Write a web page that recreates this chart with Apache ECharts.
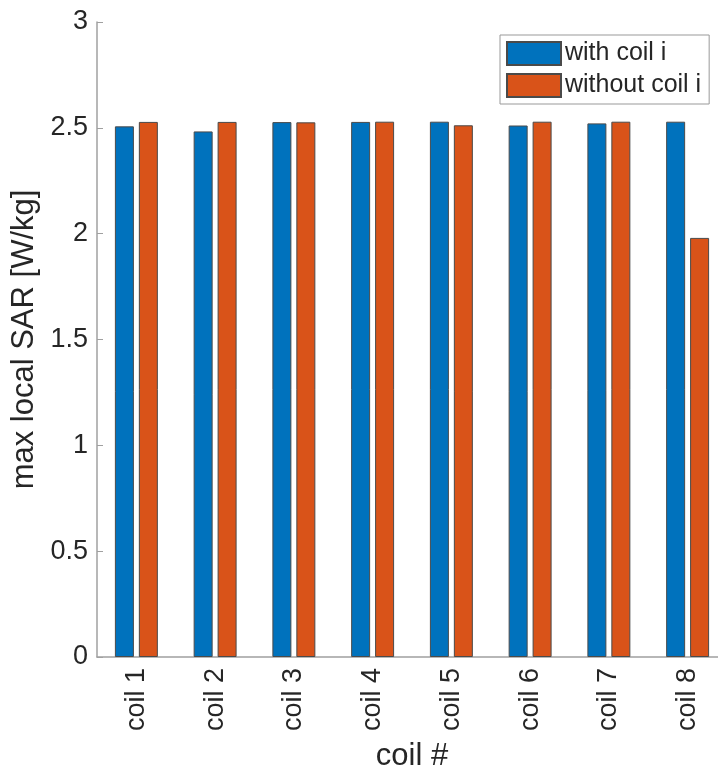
<!DOCTYPE html>
<html>
<head>
<meta charset="utf-8">
<script src="https://cdn.jsdelivr.net/npm/echarts@6/dist/echarts.min.js"></script>
<style>html,body{margin:0;padding:0;background:#fff;}#c{width:718px;height:769px;}</style>
</head>
<body>
<div id="c"></div>
<script>
var categories = ['coil 1','coil 2','coil 3','coil 4','coil 5','coil 6','coil 7','coil 8'];
var withCoil = [2.507, 2.483, 2.527, 2.528, 2.529, 2.511, 2.521, 2.529];
var withoutCoil = [2.528, 2.528, 2.526, 2.529, 2.512, 2.529, 2.529, 1.98];
var yTicks = [0, 0.5, 1, 1.5, 2, 2.5, 3];

var FONT = '"Liberation Sans", Arial, sans-serif';
var TXT = '#262626';
var chart = echarts.init(document.getElementById('c'), null, {renderer:'canvas'});
chart.setOption({
  animation: false,
  textStyle: {fontFamily: FONT},
  grid: {left: 97, top: 22, width: 630, height: 635, containLabel: false, outerBoundsMode: 'none'},
  legend: {
    left: 500, top: 35,
    orient: 'vertical',
    icon: 'rect',
    itemWidth: 54, itemHeight: 23, itemGap: 7,
    padding: [6, 8, 6, 6],
    borderColor: '#999', borderWidth: 1,
    backgroundColor: '#fff',
    textStyle: {fontSize: 25, color: TXT, fontFamily: FONT, padding: [0,0,0,-1]},
    data: ['with coil i', 'without coil i']
  },
  xAxis: {
    type: 'category',
    data: categories,
    name: 'coil #',
    nameLocation: 'middle',
    nameGap: 84,
    nameTextStyle: {fontSize: 31, color: TXT, fontFamily: FONT},
    axisLine: {lineStyle: {color: '#a0a0a0', width: 1.5}},
    axisTick: {inside: true, alignWithLabel: true, length: 6, lineStyle: {color: '#a0a0a0'}},
    axisLabel: {rotate: 90, fontSize: 27, color: TXT, margin: 11, fontFamily: FONT},
    splitLine: {show: false}
  },
  yAxis: {
    type: 'value',
    min: 0, max: 3, interval: 0.5,
    name: 'max local SAR [W/kg]',
    nameLocation: 'middle',
    nameGap: 50,
    nameTextStyle: {fontSize: 31, color: TXT, fontFamily: FONT},
    axisLine: {show: true, lineStyle: {color: '#a0a0a0', width: 1.5}},
    axisTick: {show: true, inside: true, length: 6, lineStyle: {color: '#a0a0a0'}},
    axisLabel: {fontSize: 27, color: TXT, margin: 9, fontFamily: FONT,
      formatter: function(v){ return yTicks.indexOf(v) >= 0 ? String(v) : ''; }},
    splitLine: {show: false}
  },
  series: [
    {name: 'with coil i', type: 'bar', data: withCoil, barWidth: 19, barGap: '26%',
     itemStyle: {color: '#0072BD', borderColor: '#4a4a4a', borderWidth: 1}},
    {name: 'without coil i', type: 'bar', data: withoutCoil, barWidth: 19,
     itemStyle: {color: '#D95319', borderColor: '#4a4a4a', borderWidth: 1}}
  ]
});
</script>
</body>
</html>
